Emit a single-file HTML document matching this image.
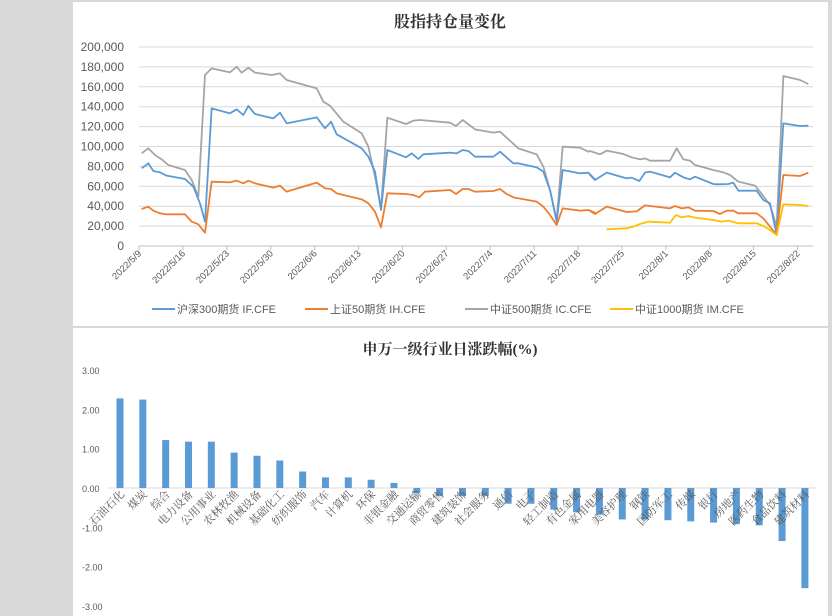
<!DOCTYPE html>
<html><head><meta charset="utf-8"><style>
html,body{margin:0;padding:0;background:#fff;}
body{width:832px;height:616px;overflow:hidden;}
svg{display:block;font-family:"Liberation Sans","Noto Sans CJK SC",sans-serif;}
</style></head><body>
<svg id="s" width="832" height="616" viewBox="0 0 832 616" xmlns="http://www.w3.org/2000/svg">
<rect x="0" y="0" width="832" height="616" fill="#d9d9d9"/>
<rect x="73" y="2" width="755" height="324" fill="#fff"/>
<rect x="73" y="328" width="755" height="288" fill="#fff"/>
<text x="450" y="27" text-anchor="middle" font-size="16" font-weight="bold" fill="#333" font-family="'Liberation Serif','Noto Serif CJK SC',serif">股指持仓量变化</text>
<text x="450" y="354" text-anchor="middle" font-size="15" font-weight="bold" fill="#333" font-family="'Liberation Serif','Noto Serif CJK SC',serif">申万一级行业日涨跌幅(%)</text>
<g id="g"></g>
</svg>
<script>
const NS="http://www.w3.org/2000/svg",G=document.getElementById('g');
function el(t,a,txt){const e=document.createElementNS(NS,t);for(const k in a)e.setAttribute(k,a[k]);if(txt!==undefined)e.textContent=txt;G.appendChild(e);return e;}
// top grid
for(let i=0;i<=10;i++){const y=246-i*19.9;el('line',{x1:139,x2:813,y1:y,y2:y,stroke:i?'#d9d9d9':'#bfbfbf','stroke-width':1});
el('text',{x:124,y:y+4,'text-anchor':'end','font-size':12,fill:'#595959'},(i*20000).toLocaleString('en-US'));}
const dates=['2022/5/9','2022/5/16','2022/5/23','2022/5/30','2022/6/6','2022/6/13','2022/6/20','2022/6/27','2022/7/4','2022/7/11','2022/7/18','2022/7/25','2022/8/1','2022/8/8','2022/8/15','2022/8/22'];
dates.forEach((d,i)=>{const x=139+i*43.9;el('line',{x1:x,x2:x,y1:246,y2:250,stroke:'#bfbfbf'});
el('text',{x:x+3,y:254,'text-anchor':'end','font-size':9.5,fill:'#595959',transform:`rotate(-45 ${x+3} 254)`},d);});
function conv(o,arr){return arr.map(p=>[o[0]+p[0]/3,o[1]+p[1]/3]);}
const z4=[135,40],z5=[370,40],z6=[590,40];
const gray=[].concat(conv(z4,[[20,340],[40,325],[60,345],[80,358],[100,375],[150,390],[170,420],[190,470],[210,105],[230,85],[285,97],[305,80],[320,98],[340,83],[360,98],[410,105],[435,100],[455,120],[545,145],[565,185],[585,197],[625,245],[680,280],[700,320],[720,410]]),
conv(z5,[[33,505],[52,233],[108,252],[130,242],[150,240],[240,248],[258,258],[278,240],[315,268],[370,278],[390,275],[445,325],[500,343],[520,380],[540,450],[560,540],[578,320],[630,323],[655,335]]),
conv(z6,[[0,333],[30,343],[50,332],[100,342],[125,352],[150,358],[165,355],[180,362],[240,362],[260,325],[280,358],[300,362],[315,375],[370,390],[400,397],[420,405],[445,425],[495,437],[510,455],[540,495],[560,560],[580,108],[630,120],[655,132]]));
const blue=[].concat(conv(z4,[[20,385],[40,370],[55,393],[75,397],[95,407],[150,417],[175,440],[195,490],[210,545],[230,205],[285,220],[305,208],[325,225],[340,198],[360,222],[415,235],[435,218],[455,250],[545,232],[570,265],[588,245],[605,283],[680,325],[700,350],[720,395]]),
conv(z5,[[33,510],[52,330],[108,352],[125,340],[145,357],[160,343],[240,338],[260,340],[278,330],[295,333],[315,350],[370,350],[390,335],[430,370],[445,370],[500,382],[520,395],[540,450],[560,545],[578,390],[630,400],[655,398],[675,418]]),
conv(z6,[[0,405],[15,420],[50,398],[110,415],[125,413],[148,423],[165,398],[180,395],[240,412],[255,398],[280,412],[300,418],[315,410],[370,432],[385,433],[415,432],[430,428],[445,452],[500,452],[520,480],[540,490],[560,585],[580,250],[630,258],[655,257]]));
const orange=[].concat(conv(z4,[[20,507],[40,500],[55,512],[75,520],[95,523],[150,523],[170,545],[190,553],[210,578],[230,425],[285,427],[305,422],[325,430],[340,422],[360,430],[415,443],[435,437],[455,455],[545,428],[570,445],[588,447],[605,460],[680,478],[700,490],[720,515]]),
conv(z5,[[33,562],[52,460],[108,462],[130,465],[148,472],[165,455],[240,450],[258,462],[278,447],[295,447],[315,455],[370,453],[390,447],[410,462],[430,472],[500,485],[520,500],[540,525],[560,555],[578,505],[630,512],[655,510],[675,518]]),
conv(z6,[[0,513],[15,522],[50,500],[110,516],[140,514],[165,496],[240,505],[255,498],[275,505],[295,502],[315,512],[370,513],[390,522],[410,512],[430,512],[445,520],[500,520],[520,535],[560,585],[580,405],[630,408],[655,398]]));
const yellow=conv(z6,[[50,568],[110,565],[130,560],[150,552],[175,545],[240,548],[258,525],[275,532],[295,528],[315,533],[370,540],[395,545],[415,542],[445,550],[500,550],[520,558],[540,570],[560,585],[580,493],[630,495],[655,498]]);
[[gray,'#a5a5a5'],[blue,'#5b9bd5'],[orange,'#ed7d31'],[yellow,'#ffc000']].forEach(([p,c])=>{
el('polyline',{points:p.map(q=>q.join(',')).join(' '),fill:'none',stroke:c,'stroke-width':1.8,'stroke-linejoin':'round'});});
// legend
[[152,'#5b9bd5','沪深300期货 IF.CFE'],[305,'#ed7d31','上证50期货 IH.CFE'],[465,'#a5a5a5','中证500期货 IC.CFE'],[610,'#ffc000','中证1000期货 IM.CFE']].forEach(([x,c,t])=>{
el('line',{x1:x,x2:x+23,y1:309,y2:309,stroke:c,'stroke-width':2});
el('text',{x:x+25,y:313,'font-size':11,fill:'#595959'},t);});
// bottom chart
[3,2,1,0,-1,-2,-3].forEach(v=>{const y=488-v*39.3;el('text',{x:82,y:y+4,'font-size':9,fill:'#595959'},v.toFixed(2));});
el('line',{x1:108,x2:816,y1:488,y2:488,stroke:'#d9d9d9'});
const cats=[['石油石化',2.28],['煤炭',2.25],['综合',1.22],['电力设备',1.18],['公用事业',1.18],['农林牧渔',0.90],['机械设备',0.82],['基础化工',0.70],['纺织服饰',0.42],['汽车',0.27],['计算机',0.27],['环保',0.21],['非银金融',0.13],['交通运输',-0.13],['商贸零售',-0.20],['建筑装饰',-0.20],['社会服务',-0.20],['通信',-0.40],['电子',-0.40],['轻工制造',-0.55],['有色金属',-0.62],['家用电器',-0.68],['美容护理',-0.80],['钢铁',-0.80],['国防军工',-0.82],['传媒',-0.85],['银行',-0.88],['房地产',-0.92],['医药生物',-0.95],['食品饮料',-1.35],['建筑材料',-2.55]];
cats.forEach(([n,v],i)=>{const x=120+i*22.83,h=Math.abs(v)*39.3;
el('rect',{x:x-3.5,y:v>0?488-h:488,width:7,height:h,fill:'#5b9bd5'});
el('text',{x:x+5,y:495,'text-anchor':'end','font-size':11,fill:'#595959','font-family':"'Liberation Serif','Noto Serif CJK SC',serif",transform:`rotate(-45 ${x+5} 495)`},n);});
</script>
</body></html>
